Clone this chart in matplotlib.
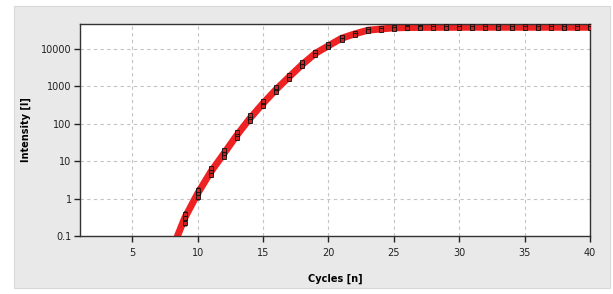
import numpy as np
from matplotlib import pyplot as plt
from matplotlib.patches import Rectangle
from matplotlib.ticker import FixedLocator, FixedFormatter

cycles = np.arange(1, 41)
intensity = [0.0001, 0.0002, 0.0004, 0.0008, 0.0016, 0.003, 0.008, 0.04,
             0.30, 1.38, 5.2, 16, 50, 141, 355, 835, 1820, 3900, 7700, 12300,
             19500, 25500, 32000, 34500, 37000, 37800, 38000, 38200, 38300, 38300,
             38400, 38400, 38400, 38400, 38400, 38400, 38400, 38400, 38400, 38400]
# half spread of the replicates, in decades
spread = [0.2] * 8 + [0.2, 0.17, 0.15, 0.15, 0.14, 0.13, 0.12, 0.11, 0.1, 0.09,
                      0.08, 0.07, 0.06, 0.05] + [0.04] * 18

yticks = [0.1, 1, 10, 100, 1000, 10000]
ytick_labels = ['0.1', '1', '10', '100', '1000', '10000']
xticks = [5, 10, 15, 20, 25, 30, 35, 40]

W, H = 613, 294
fig = plt.figure(figsize=(W/100, H/100), dpi=100, facecolor='white')
fig.patches.append(Rectangle((14/W, 1-288/H), (610-14)/W, (288-6)/H,
                             transform=fig.transFigure, facecolor='#e9e9e9',
                             edgecolor='#d8d8d8', lw=0.8, zorder=-5))

ax = fig.add_axes([80/W, 1-236/H, (590-80)/W, (236-24)/H])
ax.set_facecolor('white')

y = np.array(intensity)
sp = 10 ** np.array(spread)
ax.plot(cycles, y, color='#ee2222', lw=5, solid_capstyle='butt', zorder=2)
ax.errorbar(cycles, y, yerr=[y - y/sp, y*sp - y], fmt='s', ms=2.6,
            mfc='#cc2222', mec='#111111', mew=0.8, ecolor='#1a1a1a',
            elinewidth=2.2, capsize=0, zorder=3)
ax.plot(cycles, y*sp**0.6, 's', ms=2.2, mfc='#cc2222', mec='#111111',
        mew=0.6, zorder=4)
ax.plot(cycles, y/sp**0.6, 's', ms=2.2, mfc='#cc2222', mec='#111111',
        mew=0.6, zorder=4)

ax.set_yscale('log')
ax.set_xlim(1, 40)
ax.set_ylim(0.1, 47000)
ax.yaxis.set_major_locator(FixedLocator(yticks))
ax.yaxis.set_major_formatter(FixedFormatter(ytick_labels))
ax.yaxis.set_minor_locator(FixedLocator([]))
ax.set_xticks(xticks)

ax.grid(True, color='#c4c4c4', ls=(0, (3, 3)), lw=0.8)
ax.tick_params(direction='out', length=4, width=1, color='#222222',
               labelsize=7, labelcolor='#222222', pad=2)
ax.tick_params(axis='x', pad=5)
for s in ax.spines.values():
    s.set_color('#333333')
    s.set_linewidth(1)

ax.set_xlabel('Cycles [n]', fontsize=7, fontweight='bold', labelpad=11)
ax.set_ylabel('Intensity [I]', fontsize=7, fontweight='bold', labelpad=7)

fig.savefig('out.png', dpi=100, facecolor=fig.get_facecolor())
